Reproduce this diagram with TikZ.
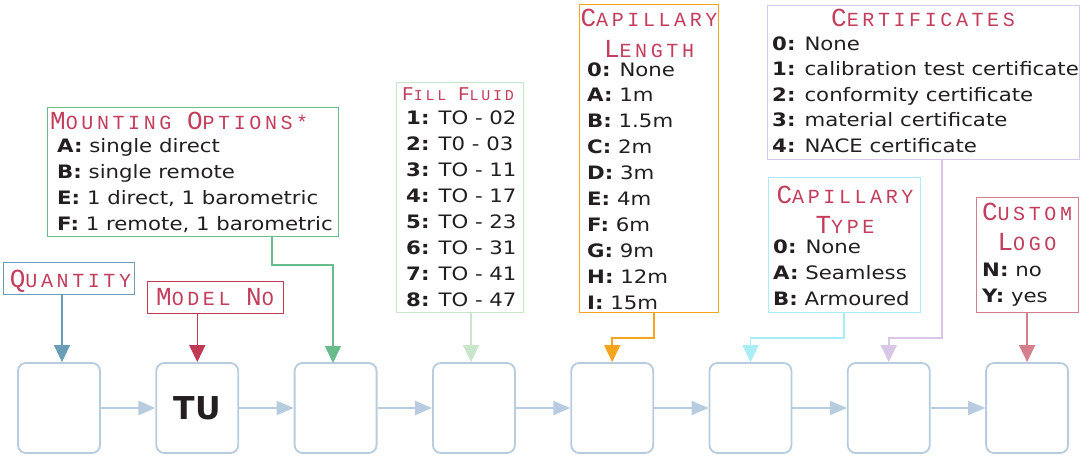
\documentclass[tikz,border=0pt]{standalone}
\usepackage{fontspec}
\usetikzlibrary{arrows.meta}
\newfontfamily\bodyfont[FakeStretch=1.15]{DejaVu Sans}
\newfontfamily\tufont{DejaVu Sans}
\newfontfamily\tfont[LetterSpace=18]{Liberation Mono}
\definecolor{flowc}{HTML}{B8CCE0}
\definecolor{txt}{HTML}{231F20}
\definecolor{titc}{HTML}{C23E5C}
\definecolor{qc}{HTML}{6A9EB8}
\definecolor{mc}{HTML}{BE3A55}
\definecolor{moc}{HTML}{69BB8C}
\definecolor{ffc}{HTML}{C9E6CC}
\definecolor{clc}{HTML}{F6A31E}
\definecolor{ctc}{HTML}{A9EEF5}
\definecolor{cec}{HTML}{D8C7E6}
\definecolor{lgc}{HTML}{D47F8C}
\newcommand\tbig{26}
\newcommand\tsmall{20}
\newcommand\scw[2]{{\fontsize{\tbig}{\tbig}\selectfont #1}{\fontsize{\tsmall}{\tsmall}\selectfont #2}}
\tikzset{
  fbox/.style={draw=flowc, line width=1.8pt, rounded corners=8pt, minimum width=82pt, minimum height=90pt, inner sep=0pt},
  flow/.style={draw=flowc, line width=2pt, -{Triangle[length=17pt,width=14pt]}},
  frame/.style={draw=#1, line width=1.3pt, anchor=north west, inner sep=0pt},
  conn/.style={draw=#1, line width=1.6pt, -{Triangle[length=17pt,width=16pt]}},
  title/.style={font=\tfont\fontsize{20}{20}\selectfont, text=titc, inner sep=0pt},
  item/.style={font=\bodyfont\fontsize{18.5}{26}\selectfont, text=txt, inner sep=0pt, anchor=base west},
}
\begin{document}
\begin{tikzpicture}[x=1pt,y=-1pt]
\fill[white] (0,0) rectangle (1081,455);
\useasboundingbox (0,0) rectangle (1081,455);
% flow boxes
\foreach \i in {1,...,8} {
  \node[fbox] (b\i) at ({59+138.3*(\i-1)},408) {};
}
\node[font=\tufont\bfseries\fontsize{31.5}{32}\selectfont, text=txt, inner sep=0pt] (tu) at (b2) {TU};
\foreach \i [evaluate=\i as \j using int(\i+1)] in {1,...,7} {
  \draw[flow] (b\i.east) -- (b\j.west);
}
% Quantity
\node[frame=qc, minimum width=131pt, minimum height=32pt] (q) at (3,262) {};
\node[title, anchor=base] (q-t) at (70.5,287) {\scw{Q}{UANTITY}};
\coordinate (q-a) at (62,294);
\draw[conn=qc] (q-a) -- (q-a |- b1.north);
% Model No
\node[frame=mc, minimum width=136pt, minimum height=32pt] (mn) at (147,281) {};
\node[title, anchor=base] (mn-t) at (215,305) {\scw{M}{ODEL} \scw{N}{O}};
\draw[conn=mc] (mn.south -| b2.north) -- (b2.north);
% Mounting options
\node[frame=moc, minimum width=291pt, minimum height=129pt] (mo) at (47,107) {};
\node[title, anchor=base west] (mo-t) at (50,129) {\scw{M}{OUNTING} \scw{O}{PTIONS*}};
\foreach \k/\v [count=\i from 0] in {A/{single direct}, B/{single remote}, E/{1 direct, 1 barometric}, F/{1 remote, 1 barometric}} {
  \node[item] (mo-\i) at (57,{152+26*\i}) {\textbf{\k:} \v};
}
\coordinate (mo-a) at (272,236);
\draw[conn=moc] (mo-a) -- ++(0,29) -| (333,363);
% Fill fluid
\node[frame=ffc, minimum width=127pt, minimum height=230pt] (ff) at (396,82) {};
\node[title, anchor=base] (ff-t) at (458,100) {\def\tbig{19.5}\def\tsmall{15}\fontsize{15}{15}\selectfont\scw{F}{ILL} \scw{F}{LUID}};
\foreach \k/\v [count=\i from 0] in {1/TO - 02, 2/T0 - 03, 3/TO - 11, 4/TO - 17, 5/TO - 23, 6/TO - 31, 7/TO - 41, 8/TO - 47} {
  \node[item] (ff-\i) at (406,{124+26.1*\i}) {\textbf{\k:} \v};
}
\coordinate (ff-a) at (471,312);
\draw[conn=ffc] (ff-a) -- (ff-a |- b4.north);
% Capillary length
\node[frame=clc, minimum width=139pt, minimum height=308pt] (cl) at (579,4) {};
\node[title, anchor=base] (cl-t1) at (649,27) {\scw{C}{APILLARY}};
\node[title, anchor=base] (cl-t2) at (649,57) {\scw{L}{ENGTH}};
\foreach \k/\v [count=\i from 0] in {0/None, A/1m, B/1.5m, C/2m, D/3m, E/4m, F/6m, G/9m, H/12m, I/15m} {
  \node[item] (cl-\i) at (587,{76+25.9*\i}) {\textbf{\k:} \v};
}
\coordinate (cl-a) at (654,312);
\draw[conn=clc] (cl-a) -- (654,338) -| (b5.north);
% Certificates
\node[frame=cec, minimum width=312pt, minimum height=154pt] (ce) at (767,5) {};
\node[title, anchor=base] (ce-t) at (923,27) {\scw{C}{ERTIFICATES}};
\foreach \k/\v [count=\i from 0] in {0/None, 1/calibration test certificate, 2/conformity certificate, 3/material certificate, 4/NACE certificate} {
  \node[item] (ce-\i) at (772,{50+25.5*\i}) {\textbf{\k:} \v};
}
\coordinate (ce-a) at (942,159);
\draw[conn=cec] (ce-a) -- (942,338) -| (b7.north);
% Capillary type
\node[frame=ctc, minimum width=152pt, minimum height=135pt] (ct) at (768,177) {};
\node[title, anchor=base] (ct-t1) at (845,203) {\scw{C}{APILLARY}};
\node[title, anchor=base] (ct-t2) at (845,233) {\scw{T}{YPE}};
\foreach \k/\v [count=\i from 0] in {0/None, A/Seamless, B/Armoured} {
  \node[item] (ct-\i) at (773,{253+26*\i}) {\textbf{\k:} \v};
}
\coordinate (ct-a) at (844,312);
\draw[conn=ctc] (ct-a) -- (844,338) -| (b6.north);
% Custom logo
\node[frame=lgc, minimum width=102pt, minimum height=115pt] (lg) at (976,197) {};
\node[title, anchor=base] (lg-t1) at (1027,220) {\scw{C}{USTOM}};
\node[title, anchor=base] (lg-t2) at (1027,250) {\scw{L}{OGO}};
\foreach \k/\v [count=\i from 0] in {N/no, Y/yes} {
  \node[item] (lg-\i) at (982,{276+26*\i}) {\textbf{\k:} \v};
}
\draw[conn=lgc] (lg.south -| b8.north) -- (b8.north);
\end{tikzpicture}
\end{document}
